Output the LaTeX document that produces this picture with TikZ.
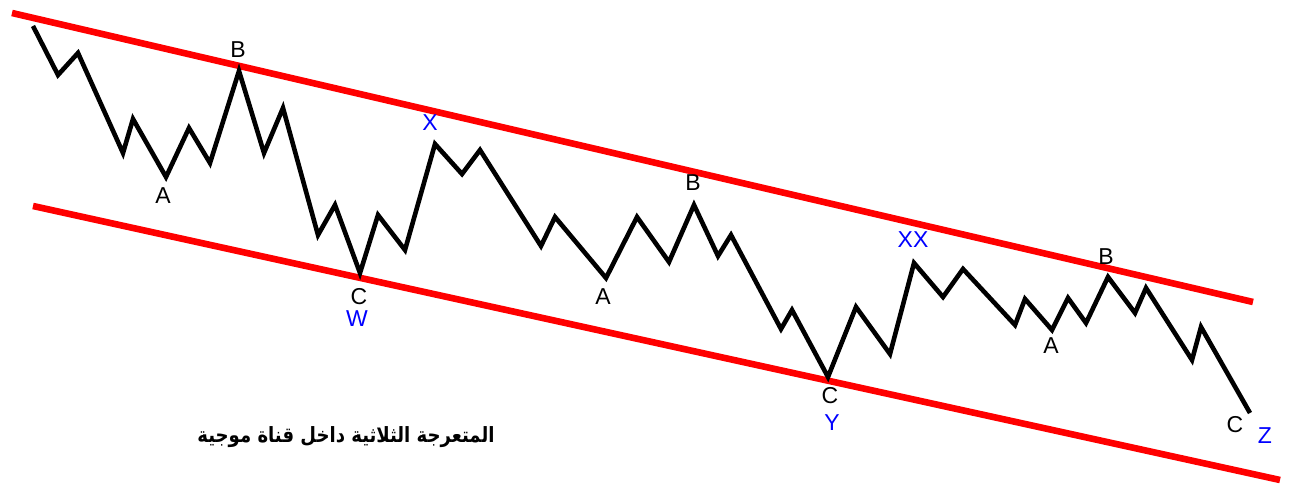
\documentclass[tikz,border=0pt]{standalone}
\usepackage{fontspec}
\setmainfont{Liberation Sans}
\newfontfamily\arabicfont[Script=Arabic]{DejaVu Sans}
\TeXXeTstate=1

\begin{document}
\begin{tikzpicture}[x=0.5pt,y=-0.5pt,
    wave/.style={line width=2.3pt, black},
    chan/.style={line width=3.3pt, red},
    lbl/.style={font=\fontsize{11.5}{12}\selectfont, inner sep=0pt},
    deg/.style={lbl, text=blue}]
    \useasboundingbox (0,0) rectangle (1290,485);

    % Draw channel lines
    \draw[chan] (12,13) -- (1253,302);
    \draw[chan] (33,206) -- (1280,480);

    % Draw the wave W
    \draw[wave] (33,26) -- (58,75) -- (78,53) -- (123,153) -- (133,119)
        -- (166,177) -- (189,128) -- (210,163) -- (239,71) -- (264,153)
        -- (283,108) -- (318,235) -- (335,205) -- (360,273)
    % wave X
        -- (378,215) -- (405,250) -- (435,144)
    % wave Y
        -- (462,174) -- (480,150) -- (541,246) -- (555,217) -- (606,278)
        -- (637,217) -- (669,262) -- (694,205) -- (718,256) -- (731,235)
        -- (781,329) -- (792,310) -- (828,377)
    % wave XX
        -- (856,307) -- (890,354) -- (914,263)
    % wave Z
        -- (943,297) -- (963,269) -- (1015,325) -- (1025,299) -- (1052,330)
        -- (1068,298) -- (1086,323) -- (1108,277) -- (1135,313) -- (1146,288)
        -- (1192,360) -- (1201,327) -- (1250,413);

    % Add labels
    \node[lbl] (a1) at (163,196) {A};
    \node[lbl] (b1) at (238,50) {B};
    \node[lbl] (c1) at (359,297) {C};
    \node[deg] (w) at (357,319) {W};
    \node[deg] (x) at (430,123) {X};
    \node[lbl] (a2) at (603,297) {A};
    \node[lbl] (b2) at (693,183) {B};
    \node[deg] (xx) at (913,240) {XX};
    \node[lbl] (c2) at (830,396) {C};
    \node[deg] (y) at (832,423) {Y};
    \node[lbl] (a3) at (1051,346) {A};
    \node[lbl] (b3) at (1106,257) {B};
    \node[lbl] (c3) at (1235,425) {C};
    \node[deg] (z) at (1265,436) {Z};

    % Title
    \node[inner sep=0pt, xscale=0.86, font=\arabicfont\bfseries\fontsize{10.5}{11}\selectfont] (title) at (346,437)
        {\beginR المتعرجة الثلاثية داخل قناة موجية\endR};
\end{tikzpicture}
\end{document}
